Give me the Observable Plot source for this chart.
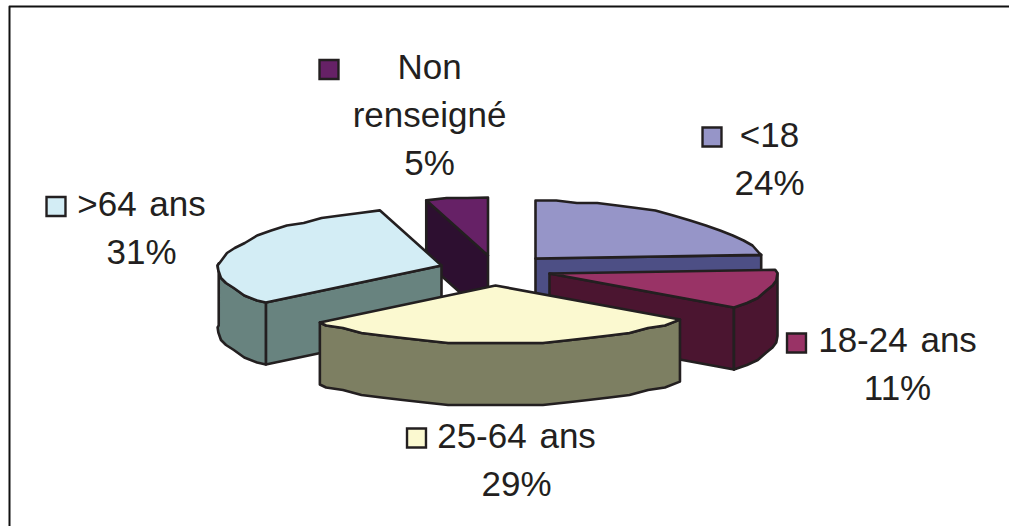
<!DOCTYPE html>
<html>
<head>
<meta charset="utf-8">
<script src="https://cdn.jsdelivr.net/npm/d3@7"></script>
<script src="https://cdn.jsdelivr.net/npm/@observablehq/plot@0.6"></script>
<style>html,body{margin:0;padding:0;background:#fff}svg{display:block}svg text{word-spacing:3px}</style>
</head>
<body>
<div id="chart"></div>
<script>
const categories = ["<18", "18-24 ans", "25-64 ans", ">64 ans", "Non renseigné"];
const percents = [24, 11, 29, 31, 5];
const topColors = ["#9695c8", "#993366", "#fbf9d0", "#d3edf5", "#662166"];
const wallColors = ["#4d4f85", "#4b1530", "#7d7f62", "#68837f", "#2d0f30"];
const apexX = [535, 549, 495, 441, 487.5];
const apexY = [258, 273, 285, 265, 255];
const labelLines = [["<18"], ["18-24 ans"], ["25-64 ans"], [">64 ans"], ["Non", "renseigné"]];
const labelX = [769, 897, 516, 141, 429];
const labelY = [146, 351, 447, 215, 78];
const keyX = [711.5, 796, 416, 55.5, 328.5];
const keyY = [136.5, 342.5, 437.5, 206, 69];
const frameX = [9, 9, 1009];
const frameY = [526, 6, 6];

const ink = "#231f20";
const rx = 228, ry = 58, depth = 62, grain = 2.5, stepDeg = 6;
const rad = d => d * Math.PI / 180;
const starts = [];
percents.reduce((s, p, i) => (starts[i] = s, s + p * 3.6), 0);
const ends = percents.map((p, i) => starts[i] + p * 3.6);

function rim(i, deg) {
  const c = Math.cos(rad(deg)), s = Math.sin(rad(deg));
  const f = 1 - 0.13 * Math.max(c, 0) - (s < 0 ? 0.018 * Math.exp(-((c / 0.3) ** 2)) : 0);
  return [apexX[i] + rx * s * f, apexY[i] - ry * c];
}
function arc(i, a, b) {
  const pts = [rim(i, a)];
  const first = Math.ceil(a / stepDeg + 0.3), last = Math.floor(b / stepDeg - 0.3);
  for (let k = first; k <= last; k++) {
    const [x, y] = rim(i, k * stepDeg);
    pts.push([x, Math.round(y / grain) * grain]);
  }
  pts.push(rim(i, b));
  return pts;
}
const down = p => [p[0], p[1] + depth];
const topFace = i => [[apexX[i], apexY[i]], ...arc(i, starts[i], ends[i])];
const wall = (i, deg) => {
  const a = [apexX[i], apexY[i]], b = rim(i, deg);
  return [a, b, down(b), down(a)];
};
const outer = (i, a, b) => {
  const t = arc(i, a, b);
  return [...t, ...t.slice().reverse().map(down)];
};

const poly = (pts, fill) => Plot.line(pts, {
  x: d => d[0], y: d => d[1], fill, stroke: ink, strokeWidth: 2.6,
  strokeLinejoin: "round", curve: "linear-closed"
});

const pieces = [
  [wall(0, ends[0]), wallColors[0]],
  [topFace(0), topColors[0]],
  [wall(4, starts[4]), wallColors[4]],
  [topFace(4), topColors[4]],
  [wall(3, starts[3]), wallColors[3]],
  [outer(3, starts[3], 272), wallColors[3]],
  [topFace(3), topColors[3]],
  [wall(1, ends[1]), wallColors[1]],
  [outer(1, starts[1] + 4, ends[1]), wallColors[1]],
  [topFace(1), topColors[1]],
  [outer(2, starts[2], ends[2]), wallColors[2]],
  [topFace(2), topColors[2]]
];

const textRows = [];
categories.forEach((c, i) => {
  const lines = [...labelLines[i], `${percents[i]}%`];
  lines.forEach((t, j) => textRows.push({t, x: labelX[i], y: labelY[i] + j * 48}));
});
const keys = categories.map((c, i) => ({x: keyX[i], y: keyY[i], fill: topColors[i]}));
const frame = frameX.map((x, i) => ({x, y: frameY[i]}));

const chart = Plot.plot({
  width: 1009, height: 526,
  margin: 0,
  x: {domain: [0, 1009], range: [0, 1009], axis: null},
  y: {domain: [0, 526], range: [0, 526], axis: null},
  style: {background: "#fff"},
  marks: [
    Plot.line(frame, {x: "x", y: "y", stroke: "#111", strokeWidth: 2}),
    ...pieces.map(([pts, fill]) => poly(pts, fill)),
    Plot.dot(keys, {x: "x", y: "y", symbol: "square", r: 10.7, fill: "fill", stroke: ink, strokeWidth: 2.4}),
    Plot.text(textRows, {x: "x", y: "y", text: "t", lineAnchor: "bottom", textAnchor: "middle",
      fontFamily: "Liberation Sans", fontSize: 35, fill: ink})
  ]
});
document.getElementById("chart").append(chart);
</script>
</body>
</html>
